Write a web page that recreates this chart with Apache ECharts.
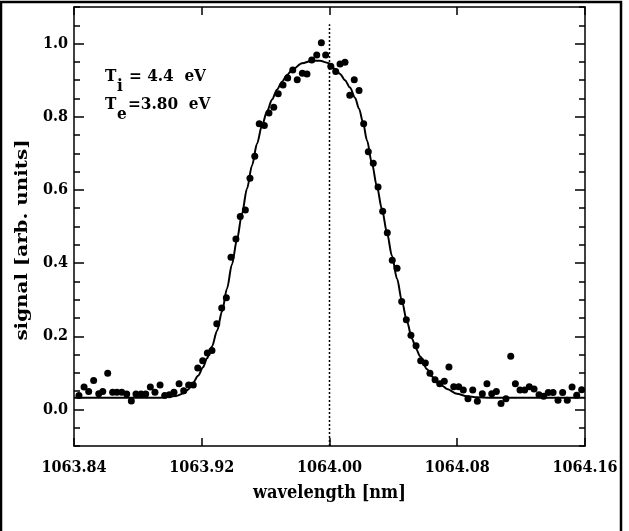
<!DOCTYPE html>
<html>
<head>
    <meta charset="utf-8">
    <title>signal vs wavelength</title>
    <script src="https://cdn.jsdelivr.net/npm/echarts@6.0.0/dist/echarts.min.js"></script>
    <style>
        html, body { margin: 0; padding: 0; background: #fff; }
        #chart { width: 629px; height: 531px; }
    </style>
</head>
<body>
<div id="chart"></div>
<script>
// measured points: wavelength [nm] and signal [arb. units]
const wavelength = [
    1063.8431, 1063.8463, 1063.8492, 1063.8523, 1063.8555, 1063.8580, 1063.8611, 1063.8642, 1063.8669, 1063.8699,
    1063.8730, 1063.8759, 1063.8788, 1063.8820, 1063.8849, 1063.8878, 1063.8907, 1063.8939, 1063.8968, 1063.8997,
    1063.9026, 1063.9058, 1063.9087, 1063.9118, 1063.9147, 1063.9175, 1063.9206, 1063.9235, 1063.9264,
    1063.9294, 1063.9325, 1063.9354, 1063.9383, 1063.9414, 1063.9441, 1063.9473, 1063.9502, 1063.9532, 1063.9560,
    1063.9592, 1063.9621, 1063.9651, 1063.9679, 1063.9709, 1063.9738, 1063.9770, 1063.9798, 1063.9830, 1063.9859,
    1063.9889, 1063.9920, 1063.9949, 1063.9976, 1064.0008,
    1064.0039, 1064.0066, 1064.0097, 1064.0127, 1064.0155, 1064.0185, 1064.0214, 1064.0243, 1064.0274, 1064.0304,
    1064.0333, 1064.0362, 1064.0393, 1064.0423, 1064.0452, 1064.0481, 1064.0510, 1064.0542, 1064.0571, 1064.0600,
    1064.0629, 1064.0661, 1064.0690, 1064.0719, 1064.0748, 1064.0778, 1064.0809, 1064.0838, 1064.0867, 1064.0897,
    1064.0926, 1064.0957, 1064.0986, 1064.1016, 1064.1045, 1064.1074, 1064.1105, 1064.1135, 1064.1164, 1064.1193,
    1064.1222, 1064.1251, 1064.1281, 1064.1312, 1064.1341, 1064.1370, 1064.1400, 1064.1431, 1064.1460, 1064.1489,
    1064.1519, 1064.1548, 1064.1579
];
const signal = [
    0.038, 0.061, 0.049, 0.079, 0.043, 0.049, 0.099, 0.047, 0.047, 0.047,
    0.042, 0.023, 0.042, 0.042, 0.042, 0.061, 0.047, 0.067, 0.038, 0.040,
    0.047, 0.070, 0.051, 0.067, 0.067, 0.113, 0.133, 0.154, 0.161,
    0.234, 0.277, 0.305, 0.416, 0.466, 0.527, 0.545, 0.632, 0.692, 0.781,
    0.776, 0.810, 0.826, 0.863, 0.887, 0.906, 0.928, 0.901, 0.919, 0.917,
    0.955, 0.969, 1.002, 0.969, 0.938,
    0.924, 0.944, 0.949, 0.859, 0.901, 0.872, 0.781, 0.704, 0.673, 0.608,
    0.542, 0.483, 0.408, 0.386, 0.295, 0.245, 0.203, 0.174, 0.133, 0.127,
    0.099, 0.081, 0.070, 0.077, 0.116, 0.062, 0.062, 0.053, 0.029, 0.053,
    0.022, 0.043, 0.070, 0.043, 0.049, 0.016, 0.029, 0.145, 0.070, 0.053,
    0.053, 0.062, 0.056, 0.040, 0.036, 0.046, 0.046, 0.025, 0.046, 0.025,
    0.061, 0.039, 0.054
];

// fitted profile
const fitWavelength = [
    1063.8400, 1063.8939, 1063.9039, 1063.9089, 1063.9114, 1063.9145, 1063.9177, 1063.9208, 1063.9233, 1063.9264,
    1063.9296, 1063.9327, 1063.9358, 1063.9389, 1063.9421, 1063.9452, 1063.9483, 1063.9515, 1063.9546, 1063.9577,
    1063.9609, 1063.9640, 1063.9671, 1063.9703, 1063.9734, 1063.9765, 1063.9828, 1063.9890, 1063.9941, 1063.9991,
    1064.0034, 1064.0066, 1064.0097, 1064.0128, 1064.0160, 1064.0185, 1064.0210, 1064.0235, 1064.0266, 1064.0297,
    1064.0329, 1064.0360, 1064.0391, 1064.0423, 1064.0454, 1064.0485, 1064.0517, 1064.0542, 1064.0567, 1064.0611,
    1064.0642, 1064.0673, 1064.0705, 1064.0736, 1064.0798, 1064.0861, 1064.0924, 1064.1005, 1064.1600
];
const fitSignal = [
    0.032, 0.032, 0.037, 0.044, 0.054, 0.072, 0.092, 0.115, 0.140, 0.172,
    0.215, 0.268, 0.330, 0.396, 0.465, 0.535, 0.603, 0.667, 0.726, 0.776,
    0.815, 0.847, 0.874, 0.896, 0.914, 0.928, 0.946, 0.953, 0.953, 0.947,
    0.931, 0.917, 0.900, 0.880, 0.852, 0.822, 0.784, 0.735, 0.672, 0.609,
    0.546, 0.483, 0.420, 0.357, 0.295, 0.240, 0.193, 0.166, 0.145, 0.110,
    0.090, 0.076, 0.065, 0.056, 0.043, 0.036, 0.033, 0.032, 0.032
];

// dotted reference line at the nominal wavelength
const refX = [1064.00, 1064.00];
const refY = [-0.1, 1.053];

const xTicks = [1063.84, 1063.92, 1064.00, 1064.08, 1064.16];
const yTicks = [0.0, 0.2, 0.4, 0.6, 0.8, 1.0];

const chart = echarts.init(document.getElementById('chart'));
const FONT = '"DejaVu Serif Condensed", "DejaVu Serif", serif';

const zip = (a, b) => a.map((v, i) => [v, b[i]]);

function xAx(pos, labels) {
    return {
        type: 'value', position: pos, min: 1063.84, max: 1064.16,
        axisLine: { show: true, onZero: false, lineStyle: { color: '#000', width: 1.5 } },
        axisTick: { show: true, inside: true, length: 8, customValues: xTicks, lineStyle: { color: '#000', width: 1.5 } },
        axisLabel: {
            show: labels, customValues: xTicks, margin: 14,
            color: '#000', fontFamily: FONT, fontWeight: 'bold', fontSize: 16,
            formatter: v => v.toFixed(2)
        },
        splitLine: { show: false },
        name: labels ? 'wavelength [nm]' : '',
        nameLocation: 'middle', nameGap: 38,
        nameTextStyle: { color: '#000', fontFamily: FONT, fontWeight: 'bold', fontSize: 18 }
    };
}
function yMajor(pos, labels) {
    return {
        type: 'value', position: pos, min: -0.1, max: 1.1,
        axisLine: { show: true, onZero: false, lineStyle: { color: '#000', width: 1.5 } },
        axisTick: { show: true, inside: true, length: 10, customValues: yTicks, lineStyle: { color: '#000', width: 1.5 } },
        axisLabel: {
            show: labels, customValues: yTicks, margin: 6,
            color: '#000', fontFamily: FONT, fontWeight: 'bold', fontSize: 16,
            formatter: v => v.toFixed(1)
        },
        splitLine: { show: false }
    };
}
function yMinor(pos) {
    return {
        type: 'value', position: pos, min: -0.1, max: 1.1, interval: 0.05,
        axisLine: { show: false },
        axisTick: { show: true, inside: true, length: 6, lineStyle: { color: '#000', width: 1.5 } },
        axisLabel: { show: false },
        splitLine: { show: false }
    };
}

const txt = (x, y, s) => ({
    type: 'text', left: x, top: y, silent: true,
    style: { text: s, font: 'bold 17px ' + FONT, fill: '#000' }
});

const option = {
    animation: false,
    backgroundColor: '#fff',
    grid: { left: 74, right: 44, top: 7, bottom: 85 },
    xAxis: [xAx('bottom', true), xAx('top', false)],
    yAxis: [yMajor('left', true), yMinor('left'), yMajor('right', false), yMinor('right')],
    series: [
        {
            type: 'line', data: zip(refX, refY),
            showSymbol: false, silent: true,
            lineStyle: { color: '#000', width: 1.5, type: [2, 2] }
        },
        {
            type: 'line', data: zip(fitWavelength, fitSignal),
            showSymbol: false, smooth: 0.3, smoothMonotone: 'x',
            lineStyle: { color: '#000', width: 2 }
        },
        {
            type: 'scatter', data: zip(wavelength, signal),
            symbol: 'circle', symbolSize: 7,
            itemStyle: { color: '#000', opacity: 1 }, z: 5
        }
    ],
    graphic: [
        {
            type: 'polyline', silent: true,
            shape: { points: [[1, 531], [1, 2], [621, 2], [621, 531]] },
            style: { fill: null, stroke: '#000', lineWidth: 2.5 }
        },
        // y axis title, stretched along its length like the original lettering
        {
            type: 'text', x: 23, y: 240, rotation: Math.PI / 2, scaleX: 1.3, silent: true,
            style: {
                text: 'signal [arb. units]', font: 'bold 17px ' + FONT, fill: '#000',
                align: 'center', verticalAlign: 'middle'
            }
        },
        txt(105, 68, 'T'), txt(117, 78, 'i'), txt(129, 68, '= 4.4  eV'),
        txt(105, 96, 'T'), txt(117, 106, 'e'), txt(128, 96, '=3.80  eV')
    ]
};

chart.setOption(option);
window.addEventListener('resize', () => chart.resize());
</script>
</body>
</html>
